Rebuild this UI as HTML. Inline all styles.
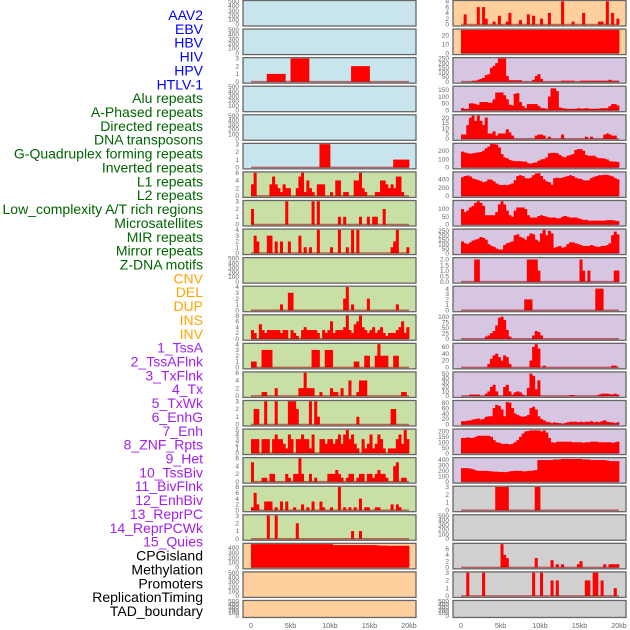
<!DOCTYPE html>
<html><head><meta charset="utf-8"><style>
html,body{margin:0;padding:0;background:#fff;}
svg{display:block;font-family:"Liberation Sans",sans-serif;}
</style></head><body>
<svg id="chart" width="630" height="630" viewBox="0 0 630 630" xmlns="http://www.w3.org/2000/svg"></svg>
<script>
// ---- labels ----
const trackLabels = ["AAV2","EBV","HBV","HIV","HPV","HTLV-1","Alu repeats","A-Phased repeats","Directed repeats","DNA transposons","G-Quadruplex forming repeats","Inverted repeats","L1 repeats","L2 repeats","Low_complexity A/T rich regions","Microsatellites","MIR repeats","Mirror repeats","Z-DNA motifs","CNV","DEL","DUP","INS","INV","1_TssA","2_TssAFlnk","3_TxFlnk","4_Tx","5_TxWk","6_EnhG","7_Enh","8_ZNF_Rpts","9_Het","10_TssBiv","11_BivFlnk","12_EnhBiv","13_ReprPC","14_ReprPCWk","15_Quies","CPGisland","Methylation","Promoters","ReplicationTiming","TAD_boundary"];
const labelGroups = [6,13,5,15,5];
const groupColors = ["#0000ff","#006400","#ffa500","#a020f0","#000000"];
const xTickLabels = ["0","5kb","10kb","15kb","20kb"];
const xTickValues = [0,5000,10000,15000,20000];
const E = [];
// ---- left column bins (60 bins over 20kb) ----
const L2_bins = [0,0,0,0,0,0,1,1,1,1,1,1,1,0,0,3,3,3,3,3,3,3,0,0,0,0,0,0,0,0,0,0,0,0,0,0,0,0,2,2,2,2,2,2,2,0,0,0,0,0,0,0,0,0,0,0,0,0,0,0];
const L5_bins = [0,0,0,0,0,0,0,0,0,0,0,0,0,0,0,0,0,0,0,0,0,0,0,0,0,0,3,3,3,3,0,0,0,0,0,0,0,0,0,0,0,0,0,0,0,0,0,0,0,0,0,0,0,0,1,1,1,1,1,1];
const L6_bins = [3,6,0,0,0,0,0,3,5,3,2,1,3,2,2,0,0,2,5,6,1,4,2,1,0,3,3,3,0,0,1,0,4,4,0,1,1,0,0,4,4,6,2,1,0,0,0,1,1,4,4,3,2,3,2,5,5,1,0,0];
const L7_bins = [2,0,0,0,0,0,0,0,0,0,0,0,0,3,0,0,0,0,0,0,0,0,0,3,0,3,0,0,0,0,0,0,0,1,0,1,0,0,0,0,0,1,0,0,1,0,1,1,0,0,2,0,0,0,0,0,0,0,0,0];
const L8_bins = [0,3,2,0,0,0,3,3,0,2,0,2,0,0,2,0,0,0,3,0,1,0,1,0,0,4,0,0,0,0,1,0,0,4,0,0,1,0,4,0,4,0,0,0,0,0,0,0,0,0,0,0,0,1,2,4,0,0,0,1];
const L10_bins = [0,0,0,0,0,0,0,0,0,0,0,1,0,0,3,3,0,0,0,0,0,0,0,0,0,0,0,0,0,0,0,0,0,0,0,2,4,0,1,0,0,0,0,0,2,0,0,0,0,0,0,0,0,0,0,1,0,0,0,0];
const L11_bins = [3,2,0,5,3,2,3,3,3,3,3,2,3,3,0,3,2,1,0,3,4,3,3,3,3,2,0,3,2,3,6,2,3,3,3,4,8,3,2,5,6,8,4,3,2,3,4,2,3,4,2,1,2,2,2,3,4,6,2,4];
const L12_bins = [1,1,0,0,3,3,3,3,0,0,0,0,0,0,0,0,0,0,0,0,0,0,0,3,3,3,0,0,3,3,3,0,0,0,0,0,0,0,0,1,1,0,0,2,2,0,0,2,4,2,2,2,0,0,2,2,0,0,0,0];
const L13_bins = [0,0,0,0,1,1,0,0,0,2,0,0,0,0,0,0,0,0,2,2,6,2,2,2,0,0,1,0,0,0,2,1,1,0,2,0,0,4,0,0,1,4,4,4,0,0,0,0,0,0,0,0,0,0,0,0,0,1,1,0];
const L14_bins = [0,2,2,0,0,3,0,0,0,3,0,0,0,0,3,3,3,2,0,0,0,0,3,0,3,1,0,0,0,0,0,0,0,0,0,0,0,0,0,0,1,0,0,0,0,0,0,0,0,0,0,0,0,2,2,0,0,0,0,0];
const L15_bins = [3,3,3,0,3,3,3,0,3,4,3,3,2,1,4,3,0,3,3,4,3,3,1,4,0,0,3,3,2,3,3,2,3,4,2,4,5,3,4,2,1,0,3,1,2,4,1,2,4,3,1,0,1,1,1,3,4,2,5,3];
const L16_bins = [5,0,0,0,1,1,0,2,2,0,0,0,0,2,1,0,2,2,6,2,0,0,2,0,1,0,0,0,0,2,2,2,3,2,1,0,1,2,2,0,1,2,2,0,2,2,1,2,3,2,2,1,0,0,4,5,0,1,1,0];
const L17_bins = [1,6,2,0,0,3,3,3,0,1,0,3,0,3,0,0,1,0,0,2,0,1,0,3,0,0,3,1,0,0,1,0,0,8,0,1,0,1,0,1,0,4,0,1,1,0,0,1,1,0,0,0,0,2,0,2,1,0,0,0];
const L18_bins = [0,0,0,0,0,0,3,0,0,3,0,0,0,0,0,0,0,2,0,0,0,0,0,0,0,0,0,0,0,0,0,0,0,0,0,0,0,0,1,0,0,1,0,0,0,0,0,0,0,0,0,0,0,0,0,0,0,0,0,0];
const L19_bins = [480,480,480,480,480,480,480,480,480,480,480,480,480,480,480,480,480,480,480,480,480,480,480,480,480,480,480,480,480,480,480,460,460,460,460,460,460,460,460,460,460,460,460,460,460,460,460,460,450,450,450,450,445,445,445,445,445,445,445,445];
// ---- right column bins ----
const R0_bins = [0,3.5,0,0,0,0,6,0,6,2,0,0,1,0,3,0,0,1,4,0,0,0,1.5,0,0,3.5,0,3,0,0,2,0,0,4,0,0,0,0,8,0,0,0,1,0,0,0,4,0,0,0,0,0,1,1,0,8,0,4,0,2];
const R1_bins = [26,26,26,26,26,26,26,26,26,26,26,26,26,26,26,26,26,26,26,26,26,26,26,26,26,26,26,26,26,26,26,26,26,26,26,26,26,26,26,26,26,26,26,26,26,26,26,26,26,26,26,26,26,26,26,26,26,26,26,26];
const R2_bins = [0,0,0,0,10,10,20,30,40,70,80,150,170,200,250,250,250,60,15,15,15,15,15,0,0,0,0,20,60,80,30,0,0,0,0,0,0,0,10,10,10,10,10,0,0,10,10,10,10,10,10,10,10,10,10,10,20,10,10,10];
const R3_bins = [15,10,10,50,50,45,40,60,60,60,55,55,80,130,130,130,110,80,40,35,120,125,60,30,15,45,45,45,45,30,15,15,10,100,160,160,140,20,15,12,10,10,10,10,15,12,12,15,12,10,10,12,12,15,15,15,30,45,45,35];
const R4_bins = [4,4,13,20,22,17,22,17,13,20,5,5,7,3,5,5,5,9,6,3,0,0,0,0,0,0,0,0,3,4,4,3,0,2,0,0,0,0,4,0,0,0,0,0,0,0,0,2,0,2,0,0,0,0,4,5,4,3,3,0];
const R5_bins = [190,180,170,165,170,175,180,185,200,230,250,280,280,275,240,160,120,110,90,80,75,75,75,70,70,50,45,55,60,80,95,100,120,170,175,175,170,150,130,120,140,150,160,210,220,220,200,150,140,140,140,120,110,110,105,95,75,70,70,65];
const R6_bins = [450,480,490,470,420,400,380,360,330,350,400,390,350,300,270,260,270,260,280,300,380,480,500,480,430,420,440,500,540,550,480,400,350,330,270,430,440,430,440,460,480,500,480,440,420,410,380,370,380,430,460,480,500,500,510,510,490,470,430,400];
const R7_bins = [100,80,90,110,120,140,150,140,120,60,60,60,60,80,130,150,130,90,60,50,90,110,110,110,100,60,45,45,45,55,60,55,50,45,45,45,40,40,50,55,50,45,45,45,40,35,30,30,25,25,25,25,25,25,25,28,28,28,25,22];
const R8_bins = [130,110,100,120,140,150,160,180,170,150,100,80,70,50,40,40,90,110,120,130,200,210,180,170,150,190,220,210,150,130,220,260,200,250,220,60,70,80,60,70,100,120,120,110,100,90,80,80,80,90,80,70,70,80,80,90,110,200,240,210];
const R9_bins = [0,0,0,0,0,2,2,0,0,0,0,0,0,0,0,0,0,0,0,0,0,0,0,0,0,2,2,2,2,1,0,0,0,0,0,0,0,0,0,0,0,0,0,0,0,2,1,0,1,0,0,0,0,0,0,0,0,0,1,1];
const R10_bins = [0,0,0,0,0,0,0,0,0,0,0,0,0,0,0,0,0,0,0,0,0,0,0,0,2,2,2,0,0,0,0,0,0,0,0,0,0,0,0,0,0,0,0,0,0,0,0,0,0,0,0,4,4,4,0,0,0,0,0,0];
const R11_bins = [0,0,0,0,0,0,0,0,0,10,15,25,35,60,95,100,85,40,10,0,0,0,0,0,0,0,0,15,35,30,15,0,0,0,0,0,0,0,0,0,0,0,0,0,0,0,0,0,0,0,0,0,0,0,0,0,0,0,0,0];
const R12_bins = [0,0,0,0,0,0,0,0,0,0,10,25,35,40,30,20,35,30,10,0,0,0,0,0,0,0,20,60,68,55,0,5,0,0,0,0,0,0,0,0,0,0,0,0,0,0,0,0,0,0,0,0,0,0,0,0,0,5,5,0];
const R13_bins = [0,0,0,3,3,3,3,0,0,5,10,20,25,10,0,0,20,25,10,3,8,10,8,3,0,18,50,45,15,35,0,0,0,0,0,0,0,0,0,0,0,2,2,0,0,0,0,0,0,0,0,0,3,5,5,5,4,3,5,3];
const R14_bins = [12,12,14,15,18,20,22,18,20,28,30,30,60,72,68,55,30,82,80,60,40,35,30,28,30,35,60,65,55,30,20,15,10,8,5,8,6,5,3,5,8,10,10,10,8,10,8,10,10,12,8,10,8,12,15,10,8,8,5,8];
const R15_bins = [140,140,145,140,140,150,160,160,160,160,160,150,120,100,95,85,85,85,80,85,100,120,150,180,200,205,210,210,210,210,200,210,190,140,100,95,105,105,105,105,105,105,100,100,100,100,95,100,100,105,105,105,100,100,100,100,100,95,100,105];
const R16_bins = [250,250,250,240,230,210,200,200,200,200,195,190,185,185,180,180,175,180,190,195,200,200,200,190,190,200,200,205,215,400,400,400,400,400,400,410,410,410,420,420,420,420,420,420,420,420,410,410,410,400,400,400,400,400,400,390,380,380,380,380];
const R17_bins = [0,0,0,0,0,0,0,0,0,0,0,0,0,3,3,3,3,3,0,0,0,0,0,0,0,0,0,0,3,3,0,0,0,0,0,0,0,0,0,0,0,0,0,0,0,0,0,0,0,0,0,0,0,0,0,0,0,0,0,0];
const R19_bins = [0,0,0,0,0,0,0,0,0,0,0,0,0,0,0,7.5,4,3,0,0,0,0,0,0,0,0,0,0,3,0,0,0,0,0,2.3,0,1,0,1,0,0,0,0,0,1,2,0,0,0,0,0,0,0,0,1,0,1,1,1,1];
const R20_bins = [0,0,3,0,0,0,0,0,3,0,0,0,0,0,0,0,0,0,0,0,0,0,0,0,0,0,0,3,0,0,3,0,0,0,2,0,2,0,0,0,0,0,0,0,0,0,0,2,2,0,3,3,0,2,0,0,0,0,1,0];

const T500=[0,100,200,300,400,500];
const BLUE="#c8e4ec",GREEN="#c8e0a5",ORANGE="#ffd09e",PURPLE="#d6c6e2",GREY="#d0d0d0";
const leftPanels = [
 {bg:BLUE,ymax:500,ticks:T500,bins:E},{bg:BLUE,ymax:500,ticks:T500,bins:E},
 {bg:BLUE,ymax:3,ticks:[0,1,2,3],bins:L2_bins},{bg:BLUE,ymax:500,ticks:T500,bins:E},
 {bg:BLUE,ymax:500,ticks:T500,bins:E},{bg:BLUE,ymax:3,ticks:[0,1,2,3],bins:L5_bins},
 {bg:GREEN,ymax:6,ticks:[0,2,4,6],bins:L6_bins},{bg:GREEN,ymax:3,ticks:[0,1,2,3],bins:L7_bins},
 {bg:GREEN,ymax:4,ticks:[0,1,2,3,4],bins:L8_bins},{bg:GREEN,ymax:500,ticks:T500,bins:E},
 {bg:GREEN,ymax:4,ticks:[0,1,2,3,4],bins:L10_bins},{bg:GREEN,ymax:8,ticks:[0,2,4,6,8],bins:L11_bins},
 {bg:GREEN,ymax:4,ticks:[0,1,2,3,4],bins:L12_bins},{bg:GREEN,ymax:6,ticks:[0,2,4,6],bins:L13_bins},
 {bg:GREEN,ymax:3,ticks:[0,1,2,3],bins:L14_bins},{bg:GREEN,ymax:5,ticks:[0,1,2,3,4,5],bins:L15_bins},
 {bg:GREEN,ymax:6,ticks:[0,2,4,6],bins:L16_bins},{bg:GREEN,ymax:8,ticks:[0,2,4,6,8],bins:L17_bins},
 {bg:GREEN,ymax:3,ticks:[0,1,2,3],bins:L18_bins},{bg:ORANGE,ymax:480,ticks:[0,100,200,300,400],bins:L19_bins},
 {bg:ORANGE,ymax:500,ticks:T500,bins:E},{bg:ORANGE,ymax:500,ticks:T500,bins:E}
];
const rightPanels = [
 {bg:ORANGE,ymax:8,ticks:[0,2,4,6,8],bins:R0_bins},{bg:ORANGE,ymax:26,ticks:[0,10,20],bins:R1_bins},
 {bg:PURPLE,ymax:250,ticks:[0,50,100,150,200,250],bins:R2_bins},{bg:PURPLE,ymax:170,ticks:[0,50,100,150],bins:R3_bins},
 {bg:PURPLE,ymax:22,ticks:[0,5,10,15,20],bins:R4_bins},{bg:PURPLE,ymax:280,ticks:[0,100,200],bins:R5_bins},
 {bg:PURPLE,ymax:560,ticks:[0,200,400],bins:R6_bins},{bg:PURPLE,ymax:150,ticks:[0,50,100],bins:R7_bins},
 {bg:PURPLE,ymax:260,ticks:[0,50,100,150,200,250],bins:R8_bins},{bg:PURPLE,ymax:2.1,ticks:[0,0.5,1,1.5,2],bins:R9_bins,dec:true},
 {bg:PURPLE,ymax:4.3,ticks:[0,1,2,3,4],bins:R10_bins},{bg:PURPLE,ymax:105,ticks:[0,25,50,75,100],bins:R11_bins},
 {bg:PURPLE,ymax:68,ticks:[0,20,40,60],bins:R12_bins},{bg:PURPLE,ymax:52,ticks:[0,10,20,30,40,50],bins:R13_bins},
 {bg:PURPLE,ymax:85,ticks:[0,20,40,60,80],bins:R14_bins},{bg:PURPLE,ymax:215,ticks:[0,50,100,150,200],bins:R15_bins},
 {bg:PURPLE,ymax:430,ticks:[0,100,200,300,400],bins:R16_bins},{bg:GREY,ymax:3,ticks:[0,1,2,3],bins:R17_bins},
 {bg:GREY,ymax:500,ticks:T500,bins:E},{bg:GREY,ymax:7.5,ticks:[0,2,4,6],bins:R19_bins},
 {bg:GREY,ymax:3,ticks:[0,1,2,3],bins:R20_bins},{bg:GREY,ymax:500,ticks:T500,bins:E}
];

const NS="http://www.w3.org/2000/svg";
const svg=document.getElementById('chart');
function mk(tag,attrs,parent){const e=document.createElementNS(NS,tag);for(const k in attrs)e.setAttribute(k,attrs[k]);(parent||svg).appendChild(e);return e;}

// labels
let li=0;
labelGroups.forEach((n,g)=>{for(let j=0;j<n;j++){
  const t=mk('text',{x:203,y:15+li*13.86+5,'text-anchor':'end','font-size':'14',fill:groupColors[g]});
  t.textContent=trackLabels[li];
  
  
  li++;}});

const GENOME=20000, NBINS=60;
function drawColumn(panels,frameX,x0,x1,colName){
  const xs=v=>x0+(v/GENOME)*(x1-x0);
  panels.forEach((p,i)=>{
    const top=0.5+i*28.57, h=(i===21)?17:25.5, bot=top+h;
    const g=mk('g',{});
    
    
    mk('rect',{x:frameX,y:top,width:173,height:h,fill:p.bg,stroke:'#666','stroke-width':1.3},g);
    const yb=bot-1.5, yt=top+0.8;
    const ys=v=>yb-(v/p.ymax)*(yb-yt);
    // ticks
    p.ticks.forEach(tv=>{
      const t=mk('text',{x:frameX-4,y:ys(tv)+2.2,'text-anchor':'end','font-size':'6.5',fill:'#666'},g);
      t.textContent=p.dec?tv.toFixed(1):String(tv);
      
      
    });
    if(p.bins.length){
      const bw=GENOME/NBINS;
      for(let b=0;b<NBINS;b++){
        const v=p.bins[b]||0; if(v<=0) continue;
        const xa=xs(b*bw), xb=xs((b+1)*bw);
        const r=mk('rect',{x:xa,y:ys(v),width:xb-xa+0.4,height:yb-ys(v),fill:'#ff0000'},g);
        
        
      }
      const bl=mk('line',{x1:xs(0),x2:xs(GENOME),y1:yb,y2:yb,stroke:'rgba(160,0,0,0.55)','stroke-width':1.5},g);
      
      
    }
  });
  xTickValues.forEach((v,k)=>{
    const t=mk('text',{x:xs(v),y:628,'text-anchor':'middle','font-size':'7',fill:'#666'});
    t.textContent=xTickLabels[k];
    
    
  });
}
drawColumn(leftPanels,243,251,409,'left');
drawColumn(rightPanels,453,461,619,'right');
</script>
</body></html>
